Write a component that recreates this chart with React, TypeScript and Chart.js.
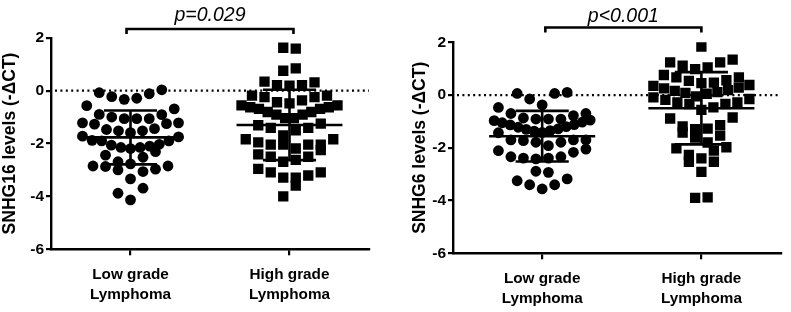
import React, { useEffect, useRef } from "react";
import { Chart, registerables } from "chart.js";

Chart.register(...registerables);

// ---------- data ----------
const categories: string[][] = [
  ["Low grade", "Lymphoma"],
  ["High grade", "Lymphoma"],
];
const yTicks = [-6, -4, -2, 0, 2];

const snhg16Low = [
  0.03, -0.33, -0.12, -0.23, -0.29, -0.08,
  -0.57, -0.69,
  -0.9, -1.0, -1.06, -1.22, -1.22, -1.06, -1.06, -0.91, -1.25, -1.27,
  -1.44, -1.52, -1.59, -1.52, -1.47,
  -1.88, -1.9, -2.06, -2.15, -2.19, -1.75, -1.72, -2.31, -2.15, -2.1, -2.03, -1.9,
  -2.52, -2.44,
  -2.97, -2.77, -3.06, -2.85, -2.85, -3.0, -2.69, -2.87,
  -3.34, -3.69, -3.88, -4.13,
];
const snhg16High = [
  1.62, 1.59, 0.75, 0.84,
  0.31, 0.19, 0.21, 0.21, 0.34,
  -0.19, -0.25, -0.37, -0.25, -0.19,
  -0.44, -0.56, -0.63, -0.69, -0.81, -0.91, -0.91, -0.81, -0.69, -0.63, -0.56, -0.48,
  -1.04, -1.04,
  -1.25, -1.41, -1.5, -1.41, -1.31,
  -1.69, -1.84, -2.19, -1.84, -2.04, -2.04, -2.04, -2.04, -1.96, -2.25,
  -2.41, -2.5, -2.69, -2.62, -2.5,
  -2.96, -3.09, -3.29, -3.59, -3.29, -3.21, -3.09,
  -4.0,
];
const snhg6Low = [
  0.06, 0.1, 0.06, -0.15, -0.37,
  -0.47, -0.7, -0.91, -0.91, -0.91, -0.87, -0.78, -0.7,
  -0.97, -0.95, -1.05, -1.03, -1.13, -1.12, -1.22, -1.2, -1.3, -1.28, -1.37, -1.35, -1.43, -1.42,
  -1.7, -1.7, -1.79, -1.79, -1.73, -1.7,
  -1.92, -2.11, -2.17, -2.05,
  -2.34, -2.39, -2.42, -2.39, -2.34,
  -2.89, -2.93,
  -3.18, -3.4, -3.56, -3.4, -3.25,
];
const snhg6High = [
  1.84,
  1.34, 1.24, 1.24, 1.11, 1.05, 0.98,
  0.67, 0.67, 0.76,
  0.56, 0.54, 0.47, 0.45, 0.38, 0.35, 0.28, 0.25, 0.19, 0.16, 0.11, 0.08, 0.05,
  -0.05, -0.15, -0.28, -0.34, -0.34, -0.28, -0.18, -0.09,
  -0.47, -0.56,
  -0.89, -0.85,
  -1.19, -1.42, -1.27, -1.29, -1.14, -1.54, -1.61,
  -1.98, -2.11, -1.8, -2.02,
  -2.53, -2.4, -2.53, -2.27,
  -2.91,
  -3.9, -3.88,
];

const snhg16Mean = [-1.77, -1.3];
const snhg16SD = [1.02, 1.33];
const snhg6Mean = [-1.56, -0.5];
const snhg6SD = [0.96, 1.37];

const pLabels = ["p=0.029", "p<0.001"];
const yTitles = ["SNHG16 levels (-\u0394CT)", "SNHG6 levels (-\u0394CT)"];

// ---------- helpers ----------
const FONT = "Arial, 'Liberation Sans', Helvetica, sans-serif";

// Prism-like scatter layout: values are binned into rows (by pixel height),
// and each row is spread symmetrically, lowest value in the middle.
function rowLayout(
  values: number[],
  yPx: (v: number) => number,
  rowH: number,
  spacing: number,
  maxHalf: number
): number[] {
  const order = values.map((_, i) => i).sort((a, b) => values[a] - values[b]);
  const rows: number[][] = [];
  let cur: number[] = [];
  let start = 0;
  for (const i of order) {
    const py = yPx(values[i]);
    if (cur.length && Math.abs(py - start) >= rowH) {
      rows.push(cur);
      cur = [];
    }
    if (!cur.length) start = py;
    cur.push(i);
  }
  if (cur.length) rows.push(cur);
  const out: number[] = new Array(values.length).fill(0);
  let flip = 1;
  rows.forEach((row) => {
    const n = row.length;
    const sp = n > 1 ? Math.min(spacing, (2 * maxHalf) / (n - 1)) : spacing;
    row.forEach((idx, k) => {
      let off: number;
      if (n % 2 === 1) {
        const m = Math.ceil(k / 2);
        off = k === 0 ? 0 : (k % 2 === 1 ? -m : m) * sp;
      } else {
        const m = Math.floor(k / 2) + 0.5;
        off = (k % 2 === 0 ? -m : m) * sp;
      }
      out[idx] = off * flip;
    });
    flip = -flip;
  });
  return out;
}

type Panel = {
  groups: number[][];
  means: number[];
  sds: number[];
  pLabel: string;
  yTitle: string;
  xMin: number;
  yAxisWidth: number;
  xAxisHeight: number;
  padTop: number;
  padRight: number;
  titlePad: number;
  bracketFrom: number;
  bracketTo: number;
  bracketY: number;
  textY: number;
};

function makeChart(canvas: HTMLCanvasElement, p: Panel) {
  const overlay = {
    id: "overlay",
    beforeDatasetsDraw(chart: any) {
      const { ctx, chartArea, scales } = chart;
      const y0 = scales.y.getPixelForValue(0);
      ctx.save();
      ctx.strokeStyle = "#000";
      ctx.lineWidth = 2.2;
      ctx.setLineDash([2, 3.4]);
      ctx.beginPath();
      ctx.moveTo(chartArea.left + 4, y0);
      ctx.lineTo(chartArea.right, y0);
      ctx.stroke();
      ctx.restore();
    },
    afterDatasetsDraw(chart: any) {
      const { ctx, scales } = chart;
      const xs = scales.x;
      const ys = scales.y;
      ctx.save();
      ctx.strokeStyle = "#000";
      ctx.lineWidth = 2.6;
      p.means.forEach((m, i) => {
        const c = i + 1;
        const sd = p.sds[i];
        ctx.beginPath();
        ctx.moveTo(xs.getPixelForValue(c - 0.333), ys.getPixelForValue(m));
        ctx.lineTo(xs.getPixelForValue(c + 0.333), ys.getPixelForValue(m));
        ctx.moveTo(xs.getPixelForValue(c - 0.167), ys.getPixelForValue(m + sd));
        ctx.lineTo(xs.getPixelForValue(c + 0.167), ys.getPixelForValue(m + sd));
        ctx.moveTo(xs.getPixelForValue(c - 0.167), ys.getPixelForValue(m - sd));
        ctx.lineTo(xs.getPixelForValue(c + 0.167), ys.getPixelForValue(m - sd));
        ctx.moveTo(xs.getPixelForValue(c), ys.getPixelForValue(m + sd));
        ctx.lineTo(xs.getPixelForValue(c), ys.getPixelForValue(m - sd));
        ctx.stroke();
      });
      // bracket
      const bx1 = xs.getPixelForValue(p.bracketFrom);
      const bx2 = xs.getPixelForValue(p.bracketTo);
      const by = ys.getPixelForValue(p.bracketY);
      ctx.lineWidth = 2.6;
      ctx.beginPath();
      ctx.moveTo(bx1, by + 5);
      ctx.lineTo(bx1, by);
      ctx.lineTo(bx2, by);
      ctx.lineTo(bx2, by + 5);
      ctx.stroke();
      ctx.fillStyle = "#000";
      ctx.font = `italic 19.5px ${FONT}`;
      ctx.textAlign = "center";
      ctx.textBaseline = "alphabetic";
      ctx.fillText(p.pLabel, (bx1 + bx2) / 2, ys.getPixelForValue(p.textY));
      ctx.restore();
    },
  };

  const chart = new Chart(canvas, {
    type: "scatter",
    data: {
      datasets: [
        {
          data: [],
          pointStyle: "circle",
          pointRadius: 5.4,
          pointHoverRadius: 5.4,
          backgroundColor: "#000",
          borderColor: "#000",
          borderWidth: 0,
        },
        {
          data: [],
          pointStyle: "rect",
          pointRadius: 7.3,
          pointHoverRadius: 7.3,
          backgroundColor: "#000",
          borderColor: "#000",
          borderWidth: 0,
        },
      ],
    },
    options: {
      animation: false,
      responsive: false,
      maintainAspectRatio: false,
      events: [],
      layout: { padding: { top: p.padTop, right: p.padRight, left: 0, bottom: 0 } },
      plugins: { legend: { display: false }, tooltip: { enabled: false } },
      scales: {
        x: {
          type: "linear",
          min: p.xMin,
          max: 2.5,
          afterBuildTicks: (s: any) => {
            s.ticks = [{ value: 1 }, { value: 2 }];
          },
          afterFit: (s: any) => {
            s.height = p.xAxisHeight;
          },
          ticks: {
            autoSkip: false,
            maxRotation: 0,
            padding: 9.5,
            color: "#000",
            font: { family: FONT, size: 15.3, weight: "bold", lineHeight: 1.31 },
            callback: (_v: any, i: number) => categories[i],
          },
          grid: { drawOnChartArea: false, drawTicks: true, tickLength: 6, color: "#000", lineWidth: 2.2 },
          border: { display: true, color: "#000", width: 2.4 },
        },
        y: {
          type: "linear",
          min: -6,
          max: 2,
          afterBuildTicks: (s: any) => {
            s.ticks = yTicks.map((v) => ({ value: v }));
          },
          afterFit: (s: any) => {
            s.width = p.yAxisWidth;
          },
          ticks: {
            padding: 2,
            color: "#000",
            font: { family: FONT, size: 15.5, weight: "bold" },
            callback: (v: any) => String(v),
          },
          grid: { drawOnChartArea: false, drawTicks: true, tickLength: 5, color: "#000", lineWidth: 2.2 },
          border: { display: true, color: "#000", width: 2.4 },
          title: {
            display: true,
            text: p.yTitle,
            color: "#000",
            font: { family: FONT, size: 17.5, weight: "bold", lineHeight: 1.2 },
            padding: { top: p.titlePad, bottom: 0 },
          },
        },
      },
    },
    plugins: [overlay],
  } as any);

  const xs: any = chart.scales.x;
  const ys: any = chart.scales.y;
  const unit = xs.getPixelForValue(2) - xs.getPixelForValue(1);
  p.groups.forEach((vals, gi) => {
    const offs = rowLayout(vals, (v) => ys.getPixelForValue(v), 13, 12.5, 48);
    (chart.data.datasets[gi] as any).data = vals.map((v, i) => ({ x: gi + 1 + offs[i] / unit, y: v }));
  });
  chart.update();
  return chart;
}

const panels: Panel[] = [
  {
    groups: [snhg16Low, snhg16High],
    means: snhg16Mean,
    sds: snhg16SD,
    pLabel: pLabels[0],
    yTitle: yTitles[0],
    xMin: 0.5,
    yAxisWidth: 51,
    xAxisHeight: 62.7,
    padTop: 37.7,
    padRight: 26,
    titlePad: 0,
    bracketFrom: 0.975,
    bracketTo: 2.025,
    bracketY: 2.33,
    textY: 2.62,
  },
  {
    groups: [snhg6Low, snhg6High],
    means: snhg6Mean,
    sds: snhg6SD,
    pLabel: pLabels[1],
    yTitle: yTitles[1],
    xMin: 0.44,
    yAxisWidth: 58,
    xAxisHeight: 58.7,
    padTop: 42.3,
    padRight: 10,
    titlePad: 15,
    bracketFrom: 1.02,
    bracketTo: 2.0,
    bracketY: 2.56,
    textY: 2.76,
  },
];

function PanelChart({ panel, left, width }: { panel: Panel; left: number; width: number }) {
  const ref = useRef<HTMLCanvasElement | null>(null);
  useEffect(() => {
    if (!ref.current) return;
    const chart = makeChart(ref.current, panel);
    return () => chart.destroy();
  }, [panel]);
  return (
    <canvas
      ref={ref}
      width={width}
      height={312}
      style={{ position: "absolute", left, top: 0, width, height: 312, display: "block" }}
    />
  );
}

export default function App() {
  return (
    <div style={{ position: "absolute", left: 0, top: 0, width: 791, height: 312, background: "#fff", overflow: "hidden" }}>
      <PanelChart panel={panels[0]} left={0} width={395} />
      <PanelChart panel={panels[1]} left={395} width={396} />
    </div>
  );
}
